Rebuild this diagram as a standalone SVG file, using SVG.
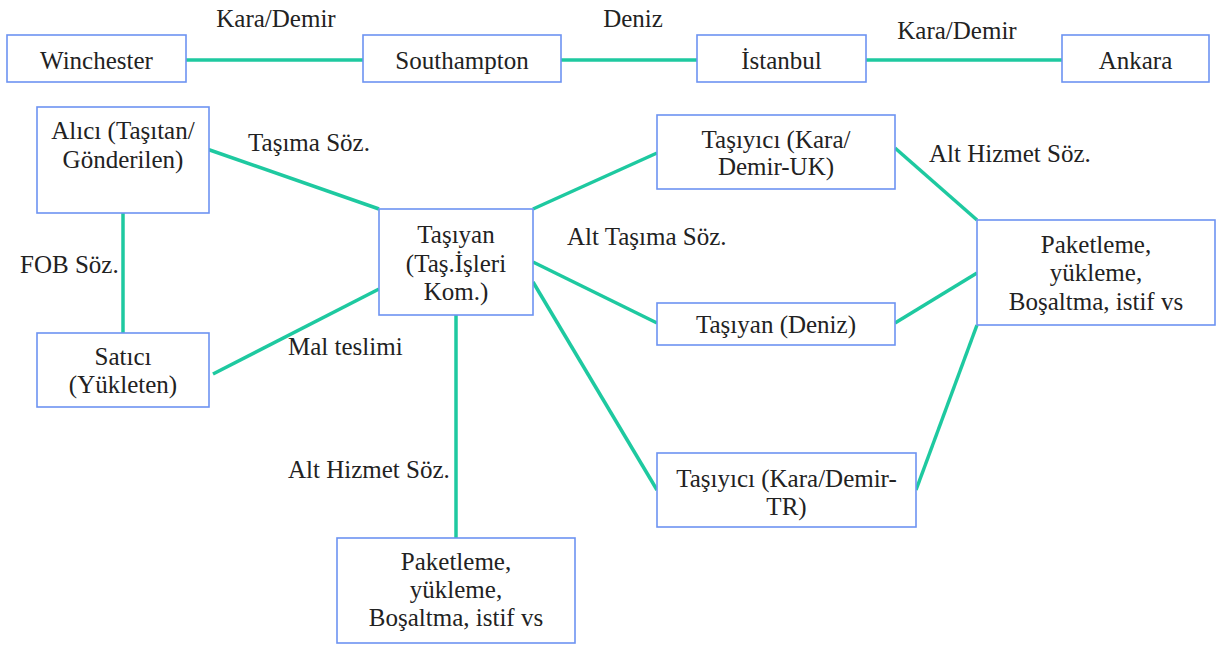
<svg xmlns="http://www.w3.org/2000/svg" width="1216" height="646" viewBox="0 0 1216 646">
<style>
.box{fill:#fff;stroke:#6d93f2;stroke-width:1.6}
text{font-family:'Liberation Serif','DejaVu Serif',serif;font-size:25px;fill:#222}
.t{text-anchor:middle}
.c{stroke:#1ec9a0;stroke-width:3.5;fill:none}
</style>
<rect width="1216" height="646" fill="#fff"/>
<g id="connectors">
<line class="c" x1="186" y1="60" x2="363" y2="60"/>
<line class="c" x1="561" y1="60" x2="697" y2="60"/>
<line class="c" x1="866" y1="60" x2="1062" y2="60"/>
<line class="c" x1="204" y1="148" x2="379" y2="209"/>
<line class="c" x1="123" y1="213" x2="123" y2="333"/>
<line class="c" x1="213" y1="374" x2="379" y2="289"/>
<line class="c" x1="533" y1="209" x2="657" y2="153"/>
<line class="c" x1="533" y1="262" x2="657" y2="323"/>
<line class="c" x1="533" y1="282" x2="657" y2="490"/>
<line class="c" x1="456" y1="315" x2="456" y2="538"/>
<line class="c" x1="895" y1="148" x2="977" y2="220"/>
<line class="c" x1="895" y1="323" x2="977" y2="273"/>
<line class="c" x1="916" y1="490" x2="977" y2="325"/>
</g>
<g id="labels" font-family="Liberation Serif, serif">
<text class="t" x="276" y="27">Kara/Demir</text>
<text class="t" x="633" y="27">Deniz</text>
<text class="t" x="957" y="39">Kara/Demir</text>
<text class="t" x="309" y="151">Taşıma Söz.</text>
<text x="20" y="273">FOB Söz.</text>
<text x="288" y="355">Mal teslimi</text>
<text x="567" y="245">Alt Taşıma Söz.</text>
<text x="929" y="162">Alt Hizmet Söz.</text>
<text x="288" y="478">Alt Hizmet Söz.</text>
</g>
<g id="winchester"><rect class="box" x="7" y="35" width="179" height="47"/><text class="t" x="96.5" y="69">Winchester</text></g>
<g id="southampton"><rect class="box" x="363" y="35" width="198" height="47"/><text class="t" x="462" y="69">Southampton</text></g>
<g id="istanbul"><rect class="box" x="697" y="35" width="169" height="47"/><text class="t" x="781.5" y="69">İstanbul</text></g>
<g id="ankara"><rect class="box" x="1062" y="35" width="147" height="47"/><text class="t" x="1135.5" y="69">Ankara</text></g>
<g id="alici"><rect class="box" x="37" y="107" width="172" height="106"/><text class="t" x="123" y="139">Alıcı (Taşıtan/</text><text class="t" x="123" y="168">Gönderilen)</text></g>
<g id="satici"><rect class="box" x="37" y="333" width="172" height="74"/><text class="t" x="123" y="365">Satıcı</text><text class="t" x="123" y="393">(Yükleten)</text></g>
<g id="tasiyan"><rect class="box" x="379" y="209" width="154" height="106"/><text class="t" x="456" y="243">Taşıyan</text><text class="t" x="456" y="272">(Taş.İşleri</text><text class="t" x="456" y="300">Kom.)</text></g>
<g id="tasiyici-uk"><rect class="box" x="657" y="115" width="238" height="74"/><text class="t" x="776" y="148">Taşıyıcı (Kara/</text><text class="t" x="776" y="175">Demir-UK)</text></g>
<g id="tasiyan-deniz"><rect class="box" x="657" y="303" width="238" height="42"/><text class="t" x="776" y="333">Taşıyan (Deniz)</text></g>
<g id="tasiyici-tr"><rect class="box" x="657" y="453" width="259" height="74"/><text class="t" x="786.5" y="487">Taşıyıcı (Kara/Demir-</text><text class="t" x="786.5" y="515">TR)</text></g>
<g id="paketleme-right"><rect class="box" x="977" y="220" width="238" height="105"/><text class="t" x="1096" y="253">Paketleme,</text><text class="t" x="1096" y="281">yükleme,</text><text class="t" x="1096" y="310">Boşaltma, istif vs</text></g>
<g id="paketleme-bottom"><rect class="box" x="337" y="538" width="238" height="105"/><text class="t" x="456" y="570">Paketleme,</text><text class="t" x="456" y="598">yükleme,</text><text class="t" x="456" y="626">Boşaltma, istif vs</text></g>
</svg>
